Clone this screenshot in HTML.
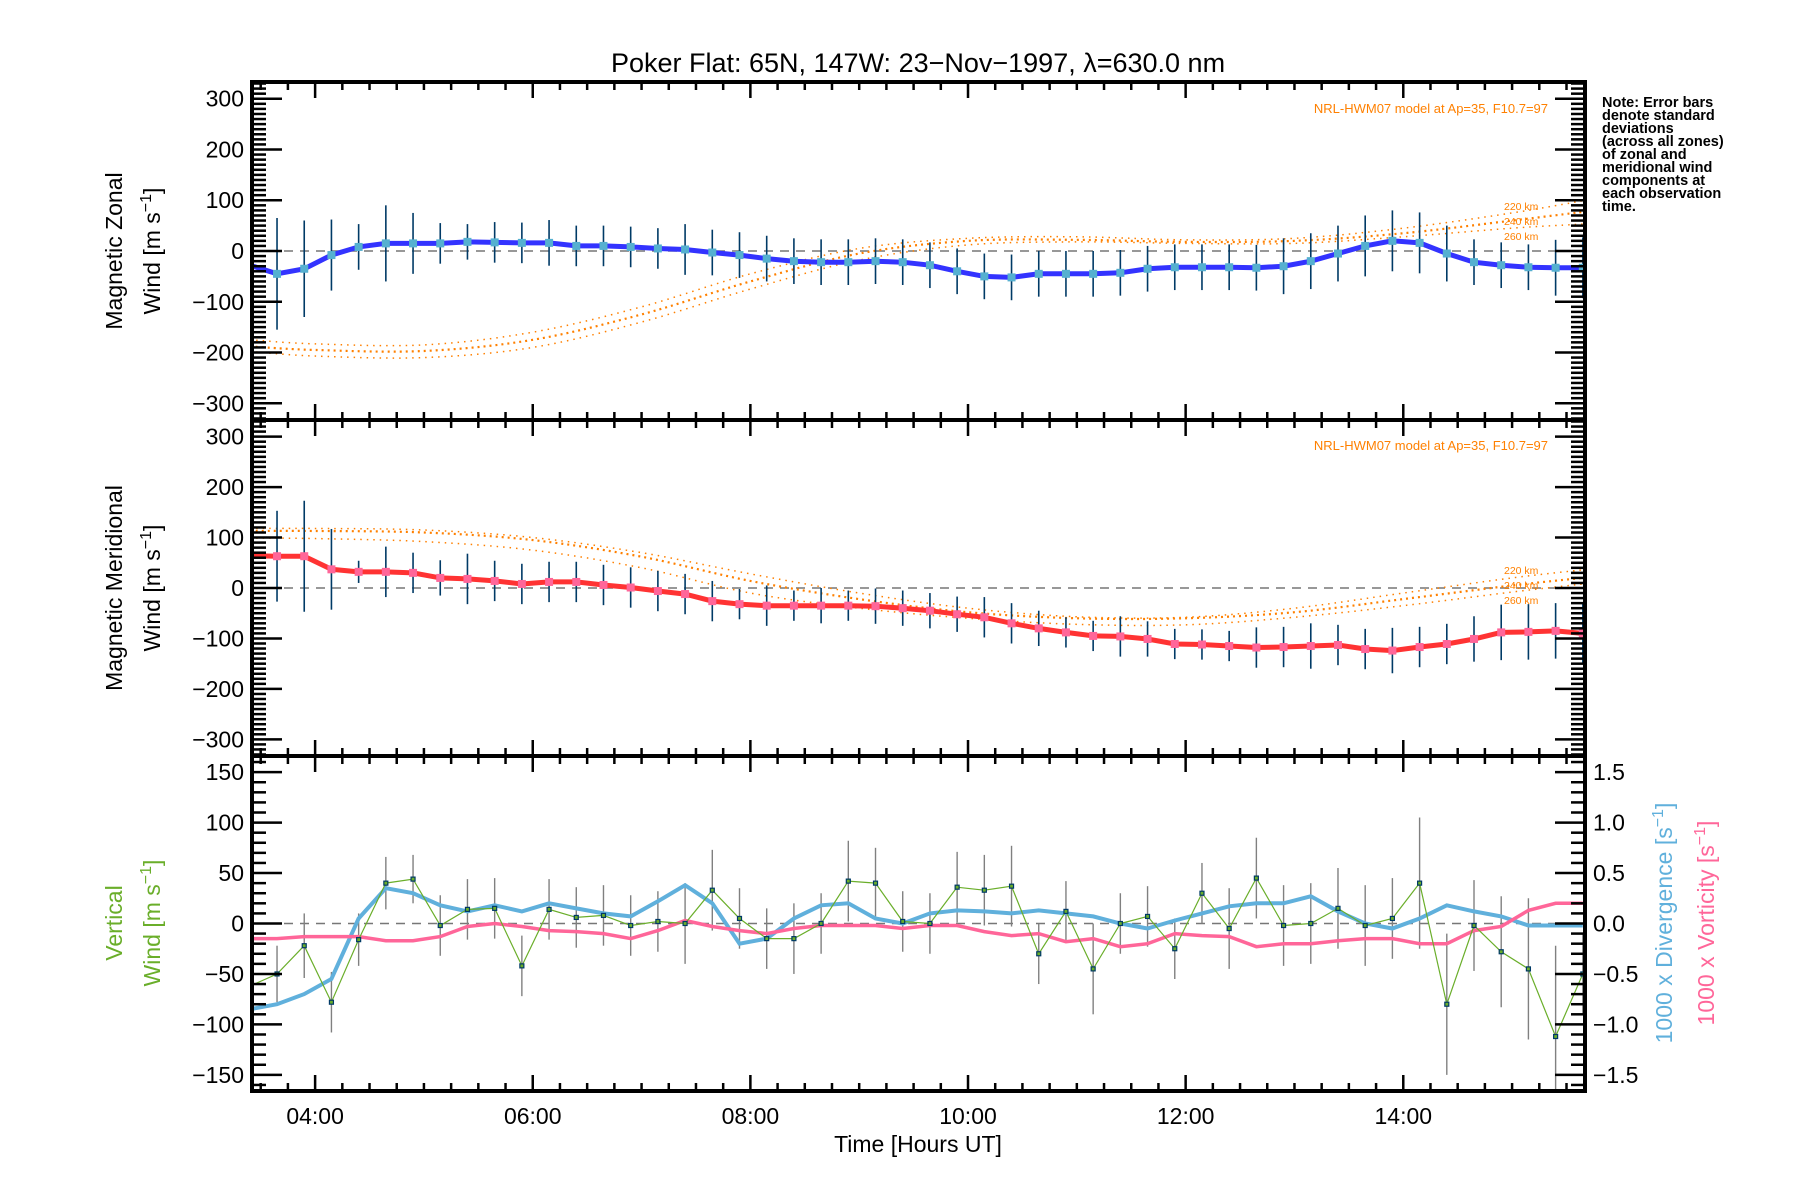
<!DOCTYPE html>
<html><head><meta charset="utf-8"><style>
html,body{margin:0;padding:0;background:#fff;}
svg{display:block;font-family:"Liberation Sans",sans-serif;}
</style></head><body>
<svg id="chart" width="1800" height="1200" viewBox="0 0 1800 1200" xmlns="http://www.w3.org/2000/svg">
<text x="918" y="72" font-size="27" text-anchor="middle">Poker Flat: 65N, 147W: 23−Nov−1997, λ=630.0 nm</text>
<text font-size="14.5" font-weight="bold" x="1602">
<tspan x="1602" y="107">Note: Error bars</tspan><tspan x="1602" y="120">denote standard</tspan><tspan x="1602" y="133">deviations</tspan><tspan x="1602" y="146">(across all zones)</tspan><tspan x="1602" y="159">of zonal and</tspan><tspan x="1602" y="172">meridional wind</tspan><tspan x="1602" y="185">components at</tspan><tspan x="1602" y="198">each observation</tspan><tspan x="1602" y="211">time.</tspan></text>
<g font-size="23">
<text transform="translate(122,251) rotate(-90)" text-anchor="middle">Magnetic Zonal</text>
<text transform="translate(160,251) rotate(-90)" text-anchor="middle">Wind [m s<tspan dy="-9" font-size="16">−1</tspan><tspan dy="9">]</tspan></text>
</g>
<g font-size="23">
<text transform="translate(122,588) rotate(-90)" text-anchor="middle">Magnetic Meridional</text>
<text transform="translate(160,588) rotate(-90)" text-anchor="middle">Wind [m s<tspan dy="-9" font-size="16">−1</tspan><tspan dy="9">]</tspan></text>
</g>
<g font-size="23" fill="#6aae2a">
<text transform="translate(122,923) rotate(-90)" text-anchor="middle">Vertical</text>
<text transform="translate(160,923) rotate(-90)" text-anchor="middle">Wind [m s<tspan dy="-9" font-size="16">−1</tspan><tspan dy="9">]</tspan></text>
</g>
<text font-size="23" fill="#60b0dc" transform="translate(1672,923) rotate(-90)" text-anchor="middle">1000 x Divergence [s<tspan dy="-9" font-size="16">−1</tspan><tspan dy="9">]</tspan></text>
<text font-size="23" fill="#ff6699" transform="translate(1714,923) rotate(-90)" text-anchor="middle">1000 x Vorticity [s<tspan dy="-9" font-size="16">−1</tspan><tspan dy="9">]</tspan></text>
<text x="918" y="1152" font-size="23" text-anchor="middle">Time [Hours UT]</text>
<g id="plot"></g>
</svg>
<script>
const times=[3.40,3.65,3.90,4.15,4.40,4.65,4.90,5.15,5.40,5.65,5.90,6.15,6.40,6.65,6.90,7.15,7.40,7.65,7.90,8.15,8.40,8.65,8.90,9.15,9.40,9.65,9.90,10.15,10.40,10.65,10.90,11.15,11.40,11.65,11.90,12.15,12.40,12.65,12.90,13.15,13.40,13.65,13.90,14.15,14.40,14.65,14.90,15.15,15.40,15.65];
const zonal=[-28,-45,-35,-8,8,15,15,15,18,17,16,16,10,10,8,5,3,-3,-8,-15,-20,-22,-22,-20,-22,-28,-40,-50,-52,-45,-45,-45,-43,-35,-32,-32,-32,-33,-30,-20,-5,10,20,16,-5,-22,-28,-32,-33,-33];
const zonalErr=[0,110,95,70,45,75,60,40,35,40,40,45,40,40,40,40,50,45,45,45,45,45,45,45,45,45,45,45,45,45,45,45,45,45,45,45,45,45,55,55,55,60,60,60,55,45,45,45,55,60];
const merid=[64,63,63,37,32,32,30,20,18,14,8,12,12,6,1,-6,-12,-26,-32,-35,-35,-35,-35,-36,-40,-45,-52,-58,-70,-80,-88,-95,-96,-101,-111,-112,-115,-118,-117,-115,-113,-121,-124,-117,-111,-101,-88,-87,-85,-90];
const meridErr=[0,90,110,80,22,50,40,35,50,40,40,40,40,40,40,40,40,40,30,40,30,35,30,35,35,35,35,40,40,35,30,30,40,35,30,30,30,40,40,45,40,40,45,40,40,45,55,55,55,60];
const vert=[-62,-50,-22,-78,-16,40,44,-2,14,15,-42,14,6,8,-2,2,0,33,5,-15,-15,0,42,40,2,0,36,33,37,-30,12,-45,0,7,-25,30,-5,45,-2,0,15,-2,5,40,-80,-2,-28,-45,-112,-50];
const vertErr=[0,28,32,30,26,26,24,30,30,30,30,30,30,30,30,30,40,40,30,30,35,30,40,35,30,30,35,35,40,30,30,45,30,30,30,30,40,40,40,40,40,40,40,65,70,45,55,70,90,40];
const diverg=[-0.85,-0.80,-0.70,-0.55,0.05,0.35,0.30,0.18,0.12,0.18,0.12,0.20,0.15,0.10,0.07,0.22,0.38,0.20,-0.20,-0.15,0.05,0.18,0.20,0.05,0.00,0.10,0.13,0.12,0.10,0.13,0.10,0.07,0.00,-0.05,0.03,0.10,0.17,0.20,0.20,0.27,0.12,0.00,-0.05,0.05,0.18,0.12,0.07,-0.02,-0.02,-0.02];
const vortic=[-0.15,-0.15,-0.13,-0.13,-0.13,-0.17,-0.17,-0.13,-0.03,0.0,-0.03,-0.07,-0.08,-0.10,-0.15,-0.07,0.03,-0.03,-0.07,-0.10,-0.05,-0.02,-0.02,-0.02,-0.05,-0.02,-0.02,-0.08,-0.12,-0.10,-0.18,-0.15,-0.23,-0.20,-0.10,-0.12,-0.13,-0.23,-0.20,-0.20,-0.17,-0.15,-0.15,-0.20,-0.20,-0.07,-0.03,0.13,0.20,0.20];
const modelT=[3.4,4,5,6,7,8,9,10,11,12,13,14,15,15.65];
const zonal220=[-175,-183,-185,-160,-110,-45,5,25,28,22,25,45,75,99];
const zonal240=[-188,-195,-197,-175,-125,-60,-5,20,22,18,20,35,60,77];
const zonal260=[-198,-207,-210,-190,-140,-75,-18,12,18,15,15,28,45,53];
const merid220=[118,118,115,100,70,28,-10,-40,-57,-58,-40,-10,20,36];
const merid240=[113,113,110,95,62,14,-22,-48,-60,-60,-48,-22,5,20];
const merid260=[99,98,92,75,40,-10,-40,-60,-72,-73,-58,-35,-8,8];
const windTicks=[-300,-200,-100,0,100,200,300];
const vertTicks=[-150,-100,-50,0,50,100,150];
const rightTicks=[-1.5,-1.0,-0.5,0.0,0.5,1.0,1.5];
const hourTicks=[4,6,8,10,12,14];

const NS='http://www.w3.org/2000/svg';
const plot=document.getElementById('plot');
const L=252,R=1585,T0=3.42,T1=15.67;
const x=t=>L+(t-T0)/(T1-T0)*(R-L);
const panels=[{top:82,bot:420,min:-333,max:333},{top:420,bot:756,min:-333,max:333},{top:756,bot:1091,min:-166,max:166}];
function yf(p,v){return p.bot-(v-p.min)/(p.max-p.min)*(p.bot-p.top);}
const y1=v=>yf(panels[0],v),y2=v=>yf(panels[1],v),y3=v=>yf(panels[2],v);
const y3r=v=>yf({top:756,bot:1091,min:-1.66,max:1.66},v);
function el(tag,attrs,parent){const e=document.createElementNS(NS,tag);for(const k in attrs)e.setAttribute(k,attrs[k]);(parent||plot).appendChild(e);return e;}
function smooth(ts,vs,yfn){let d='';for(let i=0;i<ts.length;i++){const px=x(ts[i]),py=yfn(vs[i]);if(i===0){d+='M'+px+','+py;continue;}const p0=[x(ts[Math.max(i-2,0)]),yfn(vs[Math.max(i-2,0)])],p1=[x(ts[i-1]),yfn(vs[i-1])],p2=[px,py],p3=[x(ts[Math.min(i+1,ts.length-1)]),yfn(vs[Math.min(i+1,ts.length-1)])];const c1=[p1[0]+(p2[0]-p0[0])/6,p1[1]+(p2[1]-p0[1])/6],c2=[p2[0]-(p3[0]-p1[0])/6,p2[1]-(p3[1]-p1[1])/6];d+=' C'+c1.join(',')+' '+c2.join(',')+' '+p2.join(',');}return d;}

const clips=el('defs',{});
panels.forEach((p,i)=>{const c=el('clipPath',{id:'clip'+i},clips);el('rect',{x:L,y:p.top,width:R-L,height:p.bot-p.top},c);});

[y1(0),y2(0),y3(0)].forEach((yy,i)=>{const z=el('line',{x1:L,x2:R,y1:yy,y2:yy,stroke:'#777','stroke-width':1.5,'stroke-dasharray':'9,7'});

});

const models=[[zonal220,zonal240,zonal260,y1,0],[merid220,merid240,merid260,y2,1]];
models.forEach(m=>{const g=el('g',{'clip-path':'url(#clip'+m[4]+')'});


[0,1,2].forEach(k=>{const pth=el('path',{d:smooth(modelT,m[k],m[3]),fill:'none',stroke:'#ff8000','stroke-width':k===1?2.2:1.5,'stroke-dasharray':k===1?'2,4':'1.5,5'},g);

});});

[[113,210,225,240],[450,574,589,604]].forEach((r,i)=>{
const t=el('text',{x:1548,y:r[0],'font-size':13,fill:'#ff8000','text-anchor':'end'});t.textContent='NRL-HWM07 model at Ap=35, F10.7=97';


['220 km','240 km','260 km'].forEach((s,k)=>{const u=el('text',{x:1504,y:r[k+1],'font-size':10.5,fill:'#ff8000'});u.textContent=s;

});});

function windSeries(vals,errs,yfn,lineColor,markColor,name,ci){
const g=el('g',{'clip-path':'url(#clip'+ci+')'});


for(let i=1;i<times.length;i++){const e=el('line',{x1:x(times[i]),x2:x(times[i]),y1:yfn(vals[i]-errs[i]),y2:yfn(vals[i]+errs[i]),stroke:'#003a66','stroke-width':1.6},g);

}
const pl=el('polyline',{points:times.map((t,i)=>x(t).toFixed(1)+','+yfn(vals[i]).toFixed(1)).join(' '),fill:'none',stroke:lineColor,'stroke-width':5},g);


for(let i=0;i<times.length;i++){const m=el('rect',{x:x(times[i])-4,y:yfn(vals[i])-4,width:8,height:8,fill:markColor},g);

}}
windSeries(zonal,zonalErr,y1,'#3333ff','#55b0d0','zonal',0);
windSeries(merid,meridErr,y2,'#ff3333','#ff6699','meridional',1);

const g3=el('g',{'clip-path':'url(#clip2)'});


for(let i=1;i<times.length;i++){const e=el('line',{x1:x(times[i]),x2:x(times[i]),y1:y3(vert[i]-vertErr[i]),y2:y3(vert[i]+vertErr[i]),stroke:'#808080','stroke-width':1.4},g3);

}
const dv=el('polyline',{points:times.map((t,i)=>x(t).toFixed(1)+','+y3r(diverg[i]).toFixed(1)).join(' '),fill:'none',stroke:'#60b0dc','stroke-width':4},g3);


const vt=el('polyline',{points:times.map((t,i)=>x(t).toFixed(1)+','+y3r(vortic[i]).toFixed(1)).join(' '),fill:'none',stroke:'#ff6699','stroke-width':3.5},g3);


const vw=el('polyline',{points:times.map((t,i)=>x(t).toFixed(1)+','+y3(vert[i]).toFixed(1)).join(' '),fill:'none',stroke:'#6aae2a','stroke-width':1.2},g3);


for(let i=1;i<times.length;i++){const m=el('rect',{x:x(times[i])-2,y:y3(vert[i])-2,width:4,height:4,fill:'#6aae2a',stroke:'#003a66','stroke-width':1.2},g3);

}

function yTicksLeft(p,step,major,labels,name,fmt){
const g=el('g',{});


for(let v=Math.ceil(p.min/step)*step;v<=p.max+1e-9;v+=step){const yy=yf(p,v);const isM=Math.abs(v/major-Math.round(v/major))<1e-6;
el('line',{x1:L,x2:L+(isM?30:14),y1:yy,y2:yy,stroke:'#000','stroke-width':2.5},g);
el('line',{x1:R,x2:R-(isM?30:14),y1:yy,y2:yy,stroke:'#000','stroke-width':2.5},g);}
labels.forEach(v=>{const t=el('text',{x:L-8,y:yf(p,v)+8,'font-size':23,'text-anchor':'end'},g);t.textContent=fmt(v);});}
const mfmt=v=>String(v).replace('-','−');
yTicksLeft(panels[0],10,100,windTicks,'zonal-y-axis',mfmt);
yTicksLeft(panels[1],10,100,windTicks,'meridional-y-axis',mfmt);
(function(){const g=el('g',{});


for(let v=-160;v<=160;v+=10){const yy=y3(v);const isM=v%50===0;el('line',{x1:L,x2:L+(isM?30:14),y1:yy,y2:yy,stroke:'#000','stroke-width':2.5},g);}
vertTicks.forEach(v=>{const t=el('text',{x:L-8,y:y3(v)+8,'font-size':23,'text-anchor':'end'},g);t.textContent=mfmt(v);});
const g2=el('g',{});


for(let k=-16;k<=16;k++){const v=k/10;const yy=y3r(v);const isM=k%5===0;el('line',{x1:R,x2:R-(isM?30:14),y1:yy,y2:yy,stroke:'#000','stroke-width':2.5},g2);}
rightTicks.forEach(v=>{const t=el('text',{x:R+8,y:y3r(v)+8,'font-size':23},g2);t.textContent=mfmt(v.toFixed(1));});})();

panels.forEach((p,i)=>{const g=el('g',{});


for(let q=14;q<=62;q++){const t=q/4;if(t<T0||t>T1)continue;const xx=x(t);const len=(q%8===0)?16:8;
el('line',{x1:xx,x2:xx,y1:p.top,y2:p.top+len,stroke:'#000','stroke-width':2.5},g);
el('line',{x1:xx,x2:xx,y1:p.bot,y2:p.bot-len,stroke:'#000','stroke-width':2.5},g);}
const fr=el('rect',{x:L,y:p.top,width:R-L,height:p.bot-p.top,fill:'none',stroke:'#000','stroke-width':4},g);

});
const gx=el('g',{});


hourTicks.forEach(h=>{const t=el('text',{x:x(h),y:1124,'font-size':23,'text-anchor':'middle'},gx);t.textContent=(h<10?'0':'')+h+':00';});
</script>
</body></html>
